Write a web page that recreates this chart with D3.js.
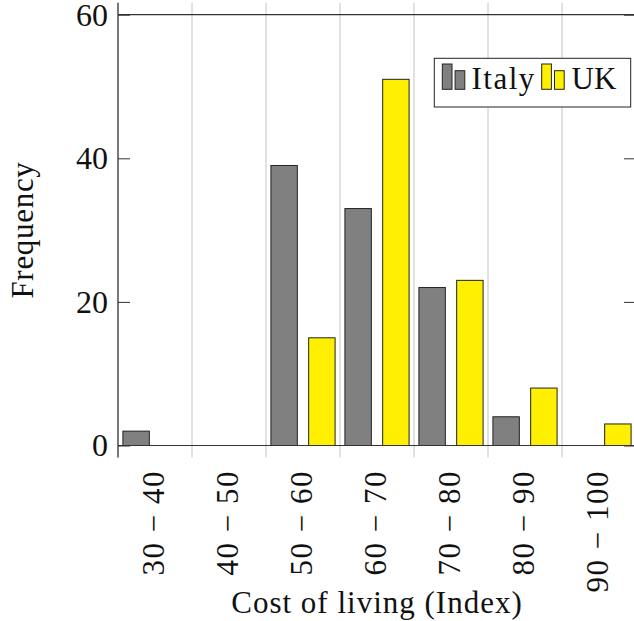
<!DOCTYPE html>
<html>
<head>
<meta charset="utf-8">
<script src="https://cdn.jsdelivr.net/npm/d3@7"></script>
<style>
  html, body { margin: 0; padding: 0; background: #fff; }
  svg text { font-family: "Liberation Serif", "DejaVu Serif", serif; fill: #111; }
</style>
</head>
<body>
<svg id="chart" width="634" height="621"></svg>
<script>
// Cost-of-living index bins and frequency per country
const bins = ["30 − 40", "40 − 50", "50 − 60", "60 − 70", "70 − 80", "80 − 90", "90 − 100"];
const seriesNames = ["Italy", "UK"];
const italy = [2, 0, 39, 33, 22, 4, 0];
const uk = [0, 0, 15, 51, 23, 8, 3];
const yTicks = [0, 20, 40, 60];
const colors = { Italy: "#808080", UK: "#ffef00" };

const svg = d3.select("#chart");
const plotLeft = 118, plotRight = 636, plotTop = 14.7, plotBottom = 445.5;

const x = d3.scaleBand().domain(bins).range([plotLeft, plotRight]).paddingInner(0).paddingOuter(0);
const xs = d3.scaleBand().domain(seriesNames).range([0, x.bandwidth()]).paddingInner(0.3).paddingOuter(0.13);
const y = d3.scaleLinear().domain([0, 60]).range([plotBottom, plotTop]);

const values = { Italy: italy, UK: uk };
const boundaries = bins.map(b => x(b)).concat([plotRight]);

// vertical grid lines at bin boundaries, with ticks above and below the frame
const grid = svg.append("g");
grid.selectAll("line.grid").data(boundaries).join("line")
  .attr("x1", d => d).attr("x2", d => d)
  .attr("y1", plotTop - 12).attr("y2", plotBottom + 12)
  .attr("stroke", "#c4c4c4").attr("stroke-width", 1);

// bars
seriesNames.forEach(name => {
  svg.append("g").selectAll("rect").data(bins.map((b, i) => ({ b, v: values[name][i] })))
    .join("rect")
    .attr("x", d => x(d.b) + xs(name))
    .attr("y", d => y(d.v))
    .attr("width", xs.bandwidth())
    .attr("height", d => y(0) - y(d.v))
    .attr("fill", colors[name])
    .attr("stroke", "#222")
    .attr("stroke-width", 1);
});

// frame
const frame = svg.append("g").attr("stroke", "#333").attr("stroke-width", 1.2).attr("fill", "none");
frame.append("line").attr("x1", plotLeft).attr("x2", plotLeft).attr("y1", plotTop - 12).attr("y2", plotBottom + 12);
frame.append("line").attr("x1", plotLeft).attr("x2", plotRight).attr("y1", plotTop).attr("y2", plotTop);
frame.append("line").attr("x1", plotLeft).attr("x2", plotRight).attr("y1", plotBottom).attr("y2", plotBottom);
frame.append("line").attr("x1", plotRight).attr("x2", plotRight).attr("y1", plotTop).attr("y2", plotBottom);

// y axis with inward ticks on both sides
const yAxisL = svg.append("g").attr("transform", `translate(${plotLeft},0)`)
  .call(d3.axisRight(y).tickValues(yTicks).tickSize(12).tickFormat(""));
yAxisL.select(".domain").remove();
yAxisL.selectAll("line").attr("stroke", "#333").attr("stroke-width", 1);
const yAxisR = svg.append("g").attr("transform", `translate(${plotRight},0)`)
  .call(d3.axisLeft(y).tickValues(yTicks).tickSize(12).tickFormat(""));
yAxisR.select(".domain").remove();
yAxisR.selectAll("line").attr("stroke", "#333").attr("stroke-width", 1);

svg.append("g").selectAll("text").data(yTicks).join("text")
  .attr("x", 108).attr("y", d => y(d)).attr("dy", "0.34em")
  .attr("text-anchor", "end").attr("font-size", 32)
  .text(d => d);

// rotated bin labels
svg.append("g").selectAll("text").data(bins).join("text")
  .attr("transform", d => `translate(${x(d) + x.bandwidth() / 2 - 1.5},470) rotate(-90)`)
  .attr("dy", "0.35em").attr("text-anchor", "end").attr("font-size", 31)
  .attr("letter-spacing", 1.5)
  .text(d => d);

// axis titles
svg.append("text").attr("x", (plotLeft + plotRight) / 2).attr("y", 613)
  .attr("text-anchor", "middle").attr("font-size", 31).attr("letter-spacing", 1)
  .text("Cost of living (Index)");
svg.append("text").attr("transform", "translate(33,230) rotate(-90)")
  .attr("text-anchor", "middle").attr("font-size", 31).attr("letter-spacing", 0.7)
  .text("Frequency");

// legend
const legend = svg.append("g");
legend.append("rect").attr("x", 434.3).attr("y", 58.3).attr("width", 196.4).attr("height", 48.7)
  .attr("fill", "#fff").attr("stroke", "#222").attr("stroke-width", 1);
const legendItems = [
  { name: "Italy", x: 442.3, tx: 471.5, ls: 1.5 },
  { name: "UK", x: 541.7, tx: 571.5, ls: 0 }
];
legendItems.forEach(it => {
  legend.append("rect").attr("x", it.x).attr("y", 64).attr("width", 9.7).attr("height", 25.3)
    .attr("fill", colors[it.name]).attr("stroke", "#222").attr("stroke-width", 1);
  legend.append("rect").attr("x", it.x + 12.8).attr("y", 70.7).attr("width", 9.7).attr("height", 18.6)
    .attr("fill", colors[it.name]).attr("stroke", "#222").attr("stroke-width", 1);
  legend.append("text").attr("x", it.tx).attr("y", 89.3).attr("font-size", 31)
    .attr("letter-spacing", it.ls).text(it.name);
});
</script>
</body>
</html>
